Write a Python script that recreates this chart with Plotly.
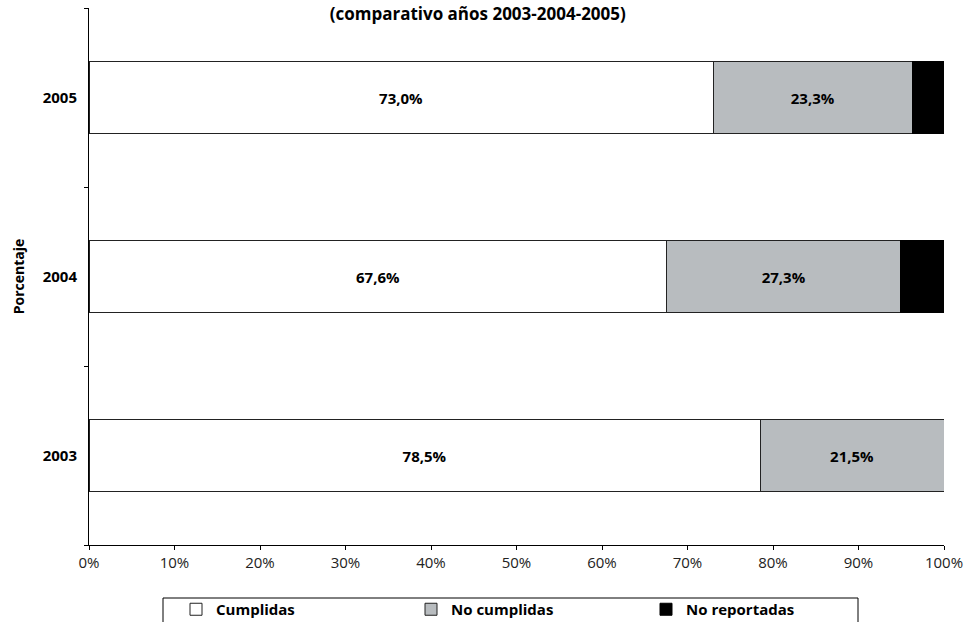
import plotly.graph_objects as go

years = ["2003", "2004", "2005"]
cumplidas = [78.5, 67.6, 73.0]
no_cumplidas = [21.5, 27.3, 23.3]
no_reportadas = [0.0, 5.1, 3.7]
x_ticks = [0, 10, 20, 30, 40, 50, 60, 70, 80, 90, 100]
x_tick_labels = [f"{v}%" for v in x_ticks]

FONT = "Open Sans"
fig = go.Figure()
fig.add_trace(go.Bar(
    y=years, x=cumplidas, name="<b>Cumplidas</b>", orientation="h",
    marker=dict(color="white", line=dict(color="#222", width=1)),
    texttemplate="<b>%{x:.1f}%</b>", textposition="inside", insidetextanchor="middle",
    textfont=dict(family=FONT, size=15, color="black"),
))
fig.add_trace(go.Bar(
    y=years, x=no_cumplidas, name="<b>No cumplidas</b>", orientation="h",
    marker=dict(color="#b8bcbf", line=dict(color="#222", width=1)),
    texttemplate="<b>%{x:.1f}%</b>", textposition="inside", insidetextanchor="middle",
    textfont=dict(family=FONT, size=15, color="black"),
))
fig.add_trace(go.Bar(
    y=years, x=no_reportadas, name="<b>No reportadas</b>", orientation="h",
    marker=dict(color="black", line=dict(color="black", width=1)),
))

W, H = 973, 622
PL, PR, PT, PB = 89, 29, 8, 77
plot_w = W - PL - PR
plot_h = H - PT - PB

fig.update_layout(
    barmode="stack",
    bargap=0.6,
    separators=",.",
    width=W, height=H,
    margin=dict(l=PL, r=PR, t=PT, b=PB, autoexpand=False),
    paper_bgcolor="white", plot_bgcolor="white",
    font=dict(family=FONT, size=13, color="black"),
    title=dict(text="<b>(comparativo años 2003-2004-2005)</b>", x=0.491, xref="container",
               xanchor="center", y=1 - 14 / H, yanchor="middle", yref="container",
               font=dict(family=FONT, size=17, color="black")),
    showlegend=True,
    legend=dict(orientation="h", x=(176 - PL) / plot_w, xanchor="left", xref="paper",
                y=(H - 593) / H, yanchor="top", yref="container",
                borderwidth=0, bgcolor="rgba(0,0,0,0)",
                entrywidth=190, itemwidth=30, traceorder="normal",
                font=dict(family=FONT, size=15, color="black")),
    shapes=[dict(type="rect", xref="paper", yref="paper",
                 x0=(163 - PL) / plot_w, x1=(858 - PL) / plot_w,
                 y0=-53 / plot_h, y1=-90 / plot_h,
                 line=dict(color="black", width=1), fillcolor="rgba(0,0,0,0)",
                 layer="below")],
)
fig.update_xaxes(range=[0, 100], tickvals=x_ticks, ticktext=x_tick_labels,
                 showgrid=False, zeroline=False, showline=True, linecolor="black",
                 linewidth=1, ticks="outside", ticklen=4, tickcolor="black",
                 tickfont=dict(family=FONT, size=15, color="#222"))
fig.update_yaxes(type="category", categoryorder="array", categoryarray=years,
                 range=[-0.5, 2.5], showgrid=False, zeroline=False, showline=True,
                 linecolor="black", linewidth=1, ticks="outside", ticklen=4,
                 tickcolor="black", tickson="boundaries", ticklabelstandoff=8,
                 tickfont=dict(family=FONT, size=15, color="black"),
                 tickprefix="<b>", ticksuffix="</b>",
                 title=dict(text="<b>Porcentaje</b>", standoff=14,
                            font=dict(family=FONT, size=14, color="black")))

fig.write_html("out.html", config={"displayModeBar": False},
               post_script="document.body.style.margin='0px';document.body.style.padding='0px';")
